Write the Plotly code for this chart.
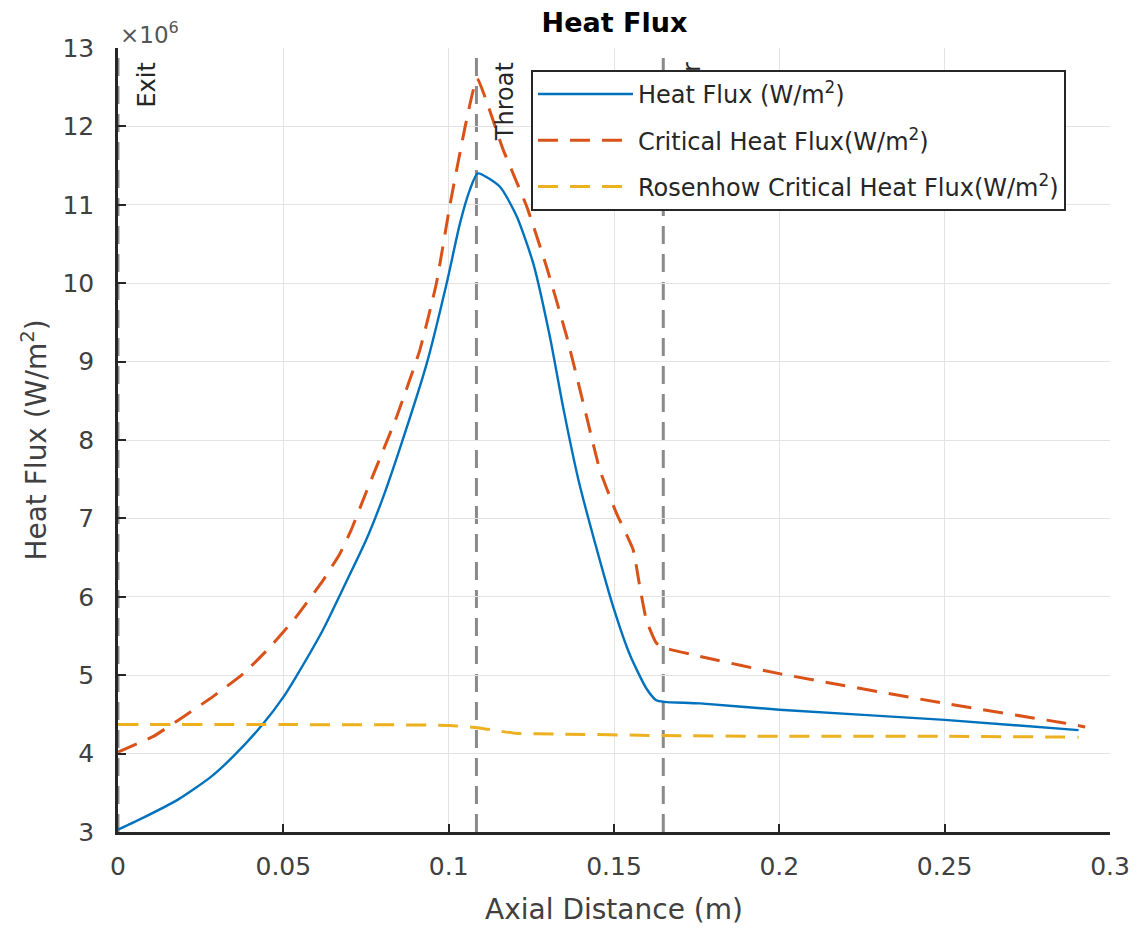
"""Heat flux along the nozzle axis: wall heat flux vs critical heat flux estimates."""

import plotly.graph_objects as go

# Axial distance (m) and heat flux values (x10^6 W/m^2)
hf_x = [0, 0.008, 0.018, 0.028, 0.035, 0.0437, 0.05, 0.0537, 0.062, 0.068, 0.075,
        0.08, 0.0853, 0.0934, 0.0994, 0.1034, 0.1064, 0.1088, 0.1155, 0.1206,
        0.1256, 0.1306, 0.1347, 0.1392, 0.1447, 0.1497, 0.1548, 0.1598, 0.1628,
        0.1652, 0.176, 0.2, 0.25, 0.2905]
hf_y = [3.03, 3.19, 3.41, 3.70, 3.97, 4.37, 4.72, 4.97, 5.58, 6.1, 6.72,
        7.25, 7.9, 8.98, 10.0, 10.76, 11.19, 11.4, 11.23, 10.85,
        10.25, 9.32, 8.40, 7.50, 6.62, 5.88, 5.26, 4.83, 4.68,
        4.66, 4.64, 4.56, 4.43, 4.30]

chf_x = [0, 0.0107, 0.0198, 0.0288, 0.0379, 0.046, 0.054, 0.062, 0.0671, 0.0705,
         0.0752, 0.0843, 0.0913, 0.0963, 0.1004, 0.105, 0.1086, 0.1165, 0.1236,
         0.1296, 0.1357, 0.1417, 0.1457, 0.1507, 0.1558, 0.1578, 0.1598, 0.1628,
         0.1652, 0.176, 0.2, 0.25, 0.2861, 0.2925]
chf_y = [4.02, 4.22, 4.47, 4.73, 5.02, 5.36, 5.75, 6.21, 6.55, 6.85,
         7.35, 8.3, 9.15, 10.0, 11.0, 12.0, 12.61, 11.7, 10.98,
         10.21, 9.32, 8.3, 7.62, 7.07, 6.6, 6.13, 5.7, 5.41,
         5.35, 5.24, 5.02, 4.64, 4.39, 4.34]

rchf_x = [0, 0.05, 0.1003, 0.1086, 0.115, 0.12, 0.1327, 0.1649, 0.2, 0.25, 0.2905]
rchf_y = [4.37, 4.37, 4.36, 4.33, 4.29, 4.26, 4.25, 4.23, 4.22, 4.22, 4.21]

SCALE = 1e6

# Section markers along the axis
marker_x = [0, 0.1084, 0.1649]
marker_labels = ["Exit", "Throat", "Chamber"]

x_ticks = [0, 0.05, 0.1, 0.15, 0.2, 0.25, 0.3]
y_ticks = list(range(3, 14))

BLUE = "#0072BD"
ORANGE = "#D95319"
YELLOW = "#EDB120"
AX = "#262626"
GRID = "#e3e3e3"
FONT = "DejaVu Sans, Arial, sans-serif"

fig = go.Figure()

fig.add_trace(go.Scatter(
    x=hf_x, y=[v * SCALE for v in hf_y], mode="lines",
    name="Heat Flux (W/m<sup>2</sup>)", legendgroup="a",
    line=dict(color=BLUE, width=2.4, shape="spline", smoothing=0.6),
))
fig.add_trace(go.Scatter(
    x=chf_x, y=[v * SCALE for v in chf_y], mode="lines",
    name="Critical Heat Flux(W/m<sup>2</sup>)", legendgroup="b",
    line=dict(color=ORANGE, width=3, dash="20px,12px", shape="spline", smoothing=0.4),
))
fig.add_trace(go.Scatter(
    x=rchf_x, y=[v * SCALE for v in rchf_y], mode="lines",
    name="Rosenhow Critical Heat Flux(W/m<sup>2</sup>)", legendgroup="c",
    line=dict(color=YELLOW, width=3, dash="20px,12px", shape="spline", smoothing=0.4),
))

LABEL_DX = 0.0038  # label sits just right of its marker line
for xv, lab in zip(marker_x, marker_labels):
    fig.add_shape(type="line", xref="x", yref="paper", x0=xv, x1=xv, y0=0, y1=1,
                  line=dict(color="#8a8a8a", width=3, dash="18px,10px"), layer="between")
    # transparent carrier holding the rotated label, so the legend can cover it
    fig.add_shape(type="line", xref="x", yref="paper",
                  x0=xv + LABEL_DX, x1=xv + LABEL_DX, y0=0, y1=0.982,
                  line=dict(color="rgba(0,0,0,0)", width=1), layer="above",
                  label=dict(text=lab, textposition="end", textangle=-90,
                             xanchor="right", yanchor="top", padding=0,
                             font=dict(size=24, color=AX, family=FONT)))

fig.add_annotation(
    x=0, y=1, xref="paper", yref="paper", text="\u00d710<sup>6</sup>",
    showarrow=False, xanchor="left", yanchor="bottom", yshift=-2, xshift=0,
    font=dict(size=23, color="#555555", family=FONT),
)

# the page body adds an 8px offset, so the margins are shifted to compensate
fig.update_layout(
    width=1140, height=930,
    margin=dict(l=110, r=38, t=40, b=106),
    paper_bgcolor="white", plot_bgcolor="white",
    font=dict(family=FONT, color=AX, size=24),
    title=dict(text="<b>Heat Flux</b>", x=0.532, xanchor="center", y=0.999,
               yanchor="top", pad=dict(t=4),
               font=dict(size=27, color="black", family=FONT)),
    legend=dict(
        x=0.4163, y=0.972, xanchor="left", yanchor="top",
        bgcolor="white", bordercolor=AX, borderwidth=2,
        font=dict(size=24, color=AX, family=FONT),
        tracegroupgap=12, itemwidth=95,
    ),
    showlegend=True,
)

fig.update_xaxes(
    range=[0, 0.3], tickvals=x_ticks, ticktext=[("%g" % t) for t in x_ticks],
    ticklabelstandoff=10,
    showgrid=True, gridcolor=GRID, gridwidth=1.3,
    showline=True, linecolor=AX, linewidth=2.5, mirror=False,
    ticks="inside", ticklen=8, tickcolor=AX, tickwidth=2,
    tickfont=dict(size=25, color="#404040"), zeroline=False,
    title=dict(text="Axial Distance (m)", font=dict(size=28, color="#404040"), standoff=20),
)
fig.update_yaxes(
    range=[3 * SCALE, 13 * SCALE], tickvals=[t * SCALE for t in y_ticks],
    ticktext=[str(t) for t in y_ticks], ticklabelstandoff=16,
    showgrid=True, gridcolor=GRID, gridwidth=1.3,
    showline=True, linecolor=AX, linewidth=2.5, mirror=False,
    ticks="inside", ticklen=8, tickcolor=AX, tickwidth=2,
    tickfont=dict(size=25, color="#404040"), zeroline=False,
    title=dict(text="Heat Flux (W/m<sup>2</sup>)", font=dict(size=28, color="#404040"), standoff=8),
)

fig.write_html("out.html")
